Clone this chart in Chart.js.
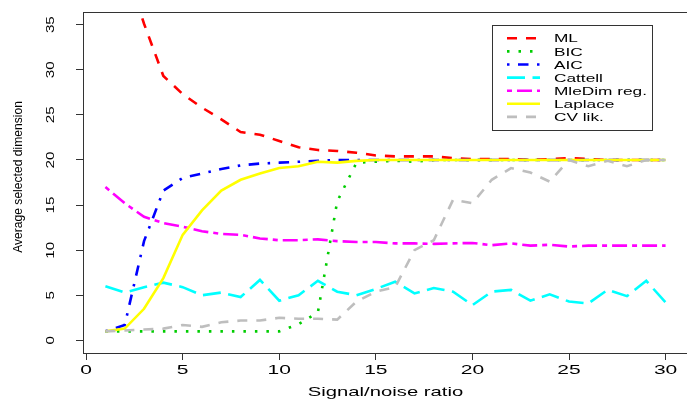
<!DOCTYPE html>
<html>
<head>
<meta charset="utf-8">
<script src="https://cdn.jsdelivr.net/npm/chart.js@4/dist/chart.umd.min.js"></script>
<style>
  html, body { margin: 0; padding: 0; background: #fff; overflow: hidden; }
  #wrap { width: 687px; height: 401px; overflow: hidden; }
</style>
</head>
<body>
<div id="wrap"><canvas id="chart" width="690" height="401"></canvas></div>
<script>
// signal/noise ratio (x)
const snr = [1, 2, 3, 4, 5, 6, 7, 8, 9, 10, 11, 12, 13, 14, 15,
             16, 17, 18, 19, 20, 21, 22, 23, 24, 25, 26, 27, 28, 29, 30];

// average selected dimension per method
const ml = [52, 41.5, 35.1, 29.3, 27.3, 25.8, 24.5, 23.1, 22.8, 22.1, 21.4, 21.1, 21.0, 20.8, 20.5,
            20.4, 20.4, 20.4, 20.2, 20.1, 20.1, 20.1, 20.0, 20.1, 20.2, 20.1, 20.0, 20.0, 20.0, 20.0];
const bic = [1, 1, 1, 1, 1, 1, 1, 1, 1, 1.0, 1.8, 3.1, 15.4, 19.7, 19.8,
             19.9, 19.8, 20, 20, 20, 20, 20, 20, 20, 20, 20, 20, 20, 20, 20];
const aic = [1.0, 1.7, 11.0, 16.6, 18.0, 18.5, 19.0, 19.4, 19.6, 19.7, 19.8, 19.9, 20, 20, 20,
             20, 20, 20, 20, 20, 20, 20, 20, 20, 20, 20, 20, 20, 20, 20];
const cattell = [6.0, 5.3, 5.9, 6.4, 5.9, 5.0, 5.3, 4.8, 6.7, 4.4, 5.0, 6.6, 5.4, 5.0, 5.7,
                 6.5, 5.2, 5.8, 5.4, 3.9, 5.4, 5.6, 4.4, 5.1, 4.3, 4.1, 5.6, 4.9, 6.6, 4.2];
const mledim = [17.0, 15.2, 13.7, 13.0, 12.6, 12.1, 11.8, 11.7, 11.3, 11.1, 11.1, 11.2, 11.0, 10.9, 10.9,
                10.75, 10.75, 10.7, 10.75, 10.8, 10.55, 10.75, 10.5, 10.6, 10.4, 10.5, 10.5, 10.5, 10.5, 10.5];
const laplace = [1.0, 1.3, 3.5, 6.9, 11.7, 14.4, 16.6, 17.8, 18.5, 19.1, 19.3, 19.8, 19.7, 19.9, 20,
                 20, 20, 20, 20, 20, 20, 20, 20, 20, 20, 20, 20, 20, 20, 20];
const cvlik = [1.0, 1.1, 1.2, 1.3, 1.7, 1.5, 2.0, 2.2, 2.2, 2.5, 2.4, 2.4, 2.3, 4.3, 5.4,
               5.9, 10.0, 11.1, 15.6, 15.2, 17.8, 19.1, 18.6, 17.6, 20.0, 19.3, 19.9, 19.3, 20.0, 20.0];

const seriesNames = ['ML', 'BIC', 'AIC', 'Cattell', 'MleDim reg.', 'Laplace', 'CV lik.'];

// tick labels
const xTicks = [0, 5, 10, 15, 20, 25, 30];
const yTicks = [0, 5, 10, 15, 20, 25, 30, 35];
const xTitle = 'Signal/noise ratio';
const yTitle = 'Average selected dimension';

// line styles (R lty look-alikes)
const styles = [
    { color: '#FF0000', dash: [10, 9] },
    { color: '#00CD00', dash: [2.5, 9] },
    { color: '#0000FF', dash: [2.5, 8.5, 10.5, 8.5] },
    { color: '#00FFFF', dash: [18, 7.5] },
    { color: '#FF00FF', dash: [5, 5, 15, 5] },
    { color: '#FFFF00', dash: [] },
    { color: '#BEBEBE', dash: [10, 9] }
];

const allSeries = [ml, bic, aic, cattell, mledim, laplace, cvlik];
const FONT = '"Liberation Sans", Arial, Helvetica, sans-serif';

// text stretched along its baseline, like the original rendering
function wideText(ctx, str, x, y, size, sx, angle, align) {
    ctx.save();
    ctx.translate(x, y);
    ctx.rotate(angle);
    ctx.scale(sx, 1);
    ctx.font = size + 'px ' + FONT;
    ctx.fillStyle = '#000';
    ctx.textAlign = align;
    ctx.textBaseline = 'alphabetic';
    ctx.fillText(str, 0, 0);
    ctx.restore();
}

const rDecor = {
    id: 'rDecor',
    afterDraw(chart) {
        const ctx = chart.ctx;
        const a = chart.chartArea;
        const xs = chart.scales.x, ys = chart.scales.y;

        // plot box
        ctx.save();
        ctx.strokeStyle = '#333';
        ctx.lineWidth = 1;
        ctx.strokeRect(Math.round(a.left) + 0.5, Math.round(a.top) + 0.5,
                       Math.round(a.right - a.left), Math.round(a.bottom - a.top));
        ctx.restore();

        // tick labels
        xTicks.forEach(v => wideText(ctx, String(v), xs.getPixelForValue(v), 373.5, 13.3, 1.58, 0, 'center'));
        yTicks.forEach(v => wideText(ctx, String(v), 54, ys.getPixelForValue(v), 10.5, 1.45, -Math.PI / 2, 'center'));

        // axis titles
        wideText(ctx, xTitle, (a.left + a.right) / 2, 395.5, 13.5, 1.5, 0, 'center');
        wideText(ctx, yTitle, 22, 177, 12.1, 1.0, -Math.PI / 2, 'center');

        // legend
        ctx.save();
        ctx.strokeStyle = '#333';
        ctx.lineWidth = 1;
        ctx.strokeRect(492.5, 25.5, 160, 105);
        chart.data.datasets.forEach((ds, i) => {
            const yRow = 38.3 + 13.1 * i;
            ctx.save();
            ctx.strokeStyle = ds.borderColor;
            ctx.lineWidth = ds.borderWidth;
            ctx.setLineDash(ds.borderDash);
            ctx.beginPath();
            ctx.moveTo(507, yRow);
            ctx.lineTo(540, yRow);
            ctx.stroke();
            ctx.restore();
            wideText(ctx, ds.label, 554, yRow + 4.1, 11.5, 1.5, 0, 'left');
        });
        ctx.restore();
    }
};

const datasets = allSeries.map((vals, i) => ({
    label: seriesNames[i],
    data: vals.map((v, j) => ({ x: snr[j], y: v })),
    borderColor: styles[i].color,
    borderDash: styles[i].dash,
    borderWidth: 2.6,
    borderCapStyle: 'butt',
    pointRadius: 0,
    tension: 0,
    fill: false,
    order: -i
}));

new Chart(document.getElementById('chart'), {
    type: 'line',
    data: { datasets },
    options: {
        responsive: false,
        animation: false,
        devicePixelRatio: 1,
        layout: { padding: { top: 12, right: 2, left: 0, bottom: 0 } },
        plugins: { legend: { display: false }, tooltip: { enabled: false } },
        scales: {
            x: {
                type: 'linear',
                min: -0.16,
                max: 31.16,
                afterBuildTicks: s => { s.ticks = xTicks.map(v => ({ value: v })); },
                afterFit: s => { s.height = 48; },
                ticks: { display: false },
                border: { display: false },
                grid: { drawOnChartArea: false, drawTicks: true, tickLength: 7, color: '#333', lineWidth: 1 }
            },
            y: {
                type: 'linear',
                min: -1.4,
                max: 36.4,
                afterBuildTicks: s => { s.ticks = yTicks.map(v => ({ value: v })); },
                afterFit: s => { s.width = 83; },
                ticks: { display: false },
                border: { display: false },
                grid: { drawOnChartArea: false, drawTicks: true, tickLength: 7, color: '#333', lineWidth: 1 }
            }
        }
    },
    plugins: [rDecor]
});
</script>
</body>
</html>
